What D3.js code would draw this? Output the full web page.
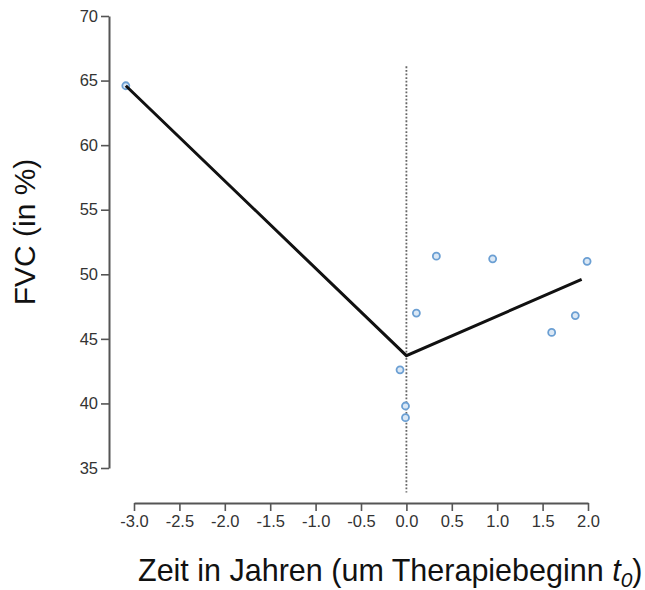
<!DOCTYPE html>
<html>
<head>
<meta charset="utf-8">
<script src="https://cdn.jsdelivr.net/npm/d3@7"></script>
<style>
  html, body { margin: 0; padding: 0; background: #fff; }
  svg { display: block; }
  text { font-family: "Liberation Sans", Arial, sans-serif; }
</style>
</head>
<body>
<svg id="chart" width="645" height="590"></svg>
<script>
// Observed FVC values (in %) relative to start of therapy
const timeYears = [-3.09, 0.33, 0.95, 1.99, 0.11, 1.86, 1.60, -0.07, -0.01, -0.01];
const fvcValues = [64.6, 51.4, 51.2, 51.0, 47.0, 46.8, 45.5, 42.6, 39.8, 38.9];

// Piecewise linear fit (before / after t0)
const fitTime = [-3.09, 0.0, 1.93];
const fitFvc  = [64.6, 43.7, 49.6];

const xTicks = [-3.0, -2.5, -2.0, -1.5, -1.0, -0.5, 0.0, 0.5, 1.0, 1.5, 2.0];
const yTicks = [35, 40, 45, 50, 55, 60, 65, 70];
const refLineSpan = [33.1, 66.1];

const svg = d3.select("#chart");

const x = d3.scaleLinear().domain([-3, 2]).range([134, 588]);
const y = d3.scaleLinear().domain([35, 70]).range([468, 16]);

const axisColor = "#555";
const fmtX = d => d3.format(".1f")(d).replace("\u2212", "-");

// y axis (detached, R style)
const yAxis = svg.append("g")
  .attr("transform", "translate(109,0)")
  .call(d3.axisLeft(y).tickValues(yTicks).tickSize(8).tickSizeOuter(0).tickPadding(3).tickFormat(d3.format("d")));
yAxis.select(".domain").attr("stroke", axisColor).attr("stroke-width", 2);
yAxis.selectAll(".tick line").attr("stroke", axisColor).attr("stroke-width", 1.6);
yAxis.selectAll(".tick text").attr("font-size", 16.5).attr("fill", "#333")
  .attr("font-family", "Liberation Sans, Arial, sans-serif");

// x axis
const xAxis = svg.append("g")
  .attr("transform", "translate(0,503)")
  .call(d3.axisBottom(x).tickValues(xTicks).tickSize(8).tickSizeOuter(0).tickPadding(4).tickFormat(fmtX));
xAxis.select(".domain").attr("stroke", axisColor).attr("stroke-width", 2);
xAxis.selectAll(".tick line").attr("stroke", axisColor).attr("stroke-width", 1.6);
xAxis.selectAll(".tick text").attr("font-size", 16.5).attr("fill", "#333")
  .attr("font-family", "Liberation Sans, Arial, sans-serif");

// dotted reference line at t0
svg.append("line")
  .attr("x1", x(0)).attr("x2", x(0))
  .attr("y1", y(refLineSpan[1])).attr("y2", y(refLineSpan[0]))
  .attr("stroke", "#666").attr("stroke-width", 1.8)
  .attr("stroke-dasharray", "1.8,1.8");

// observations
svg.append("g").selectAll("circle")
  .data(timeYears.map((t, i) => ({ t, v: fvcValues[i] })))
  .join("circle")
  .attr("cx", d => x(d.t))
  .attr("cy", d => y(d.v))
  .attr("r", 3.5)
  .attr("fill", "#dbe8f5")
  .attr("stroke", "#6b9fd3")
  .attr("stroke-width", 1.8);

// fitted line
const line = d3.line().x(d => x(d[0])).y(d => y(d[1]));
svg.append("path")
  .datum(fitTime.map((t, i) => [t, fitFvc[i]]))
  .attr("d", line)
  .attr("fill", "none")
  .attr("stroke", "#111")
  .attr("stroke-width", 3)
  .attr("stroke-linejoin", "miter");

// axis titles
svg.append("text")
  .attr("transform", "translate(35,232) rotate(-90)")
  .attr("text-anchor", "middle")
  .attr("font-size", 30)
  .attr("fill", "#111")
  .text("FVC (in %)");

const xt = svg.append("text")
  .attr("x", 138).attr("y", 581)
  .attr("text-anchor", "start")
  .attr("font-size", 30.5)
  .attr("fill", "#111");
xt.append("tspan").text("Zeit in Jahren (um Therapiebeginn ");
xt.append("tspan").attr("font-style", "italic").text("t");
xt.append("tspan").attr("font-style", "italic").attr("font-size", 21).attr("dy", 6).text("0");
xt.append("tspan").attr("dy", -6).text(")");
</script>
</body>
</html>
